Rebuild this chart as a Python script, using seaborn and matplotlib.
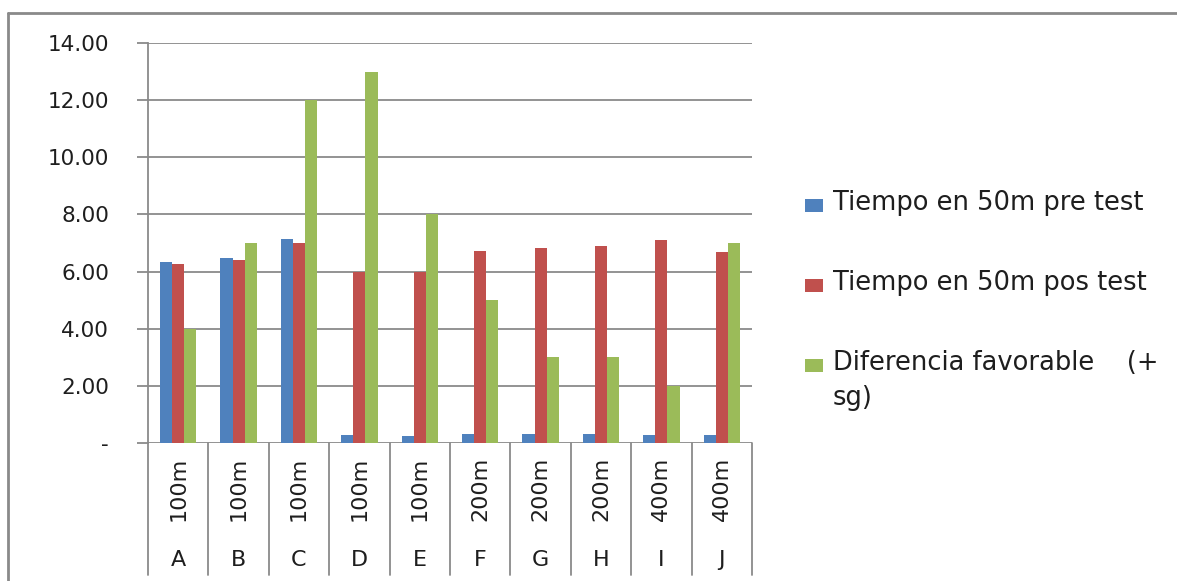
import numpy as np
import pandas as pd
import seaborn as sns
import matplotlib.pyplot as plt
from matplotlib.lines import Line2D
from matplotlib.patches import Rectangle

# datos
nadadores = ['A', 'B', 'C', 'D', 'E', 'F', 'G', 'H', 'I', 'J']
distancias = ['100m', '100m', '100m', '100m', '100m', '200m', '200m', '200m', '400m', '400m']
pre_test = [6.32, 6.46, 7.14, 0.28, 0.23, 0.33, 0.33, 0.33, 0.28, 0.28]
pos_test = [6.28, 6.42, 7.00, 6.00, 6.00, 6.73, 6.83, 6.91, 7.09, 6.69]
diferencia = [4.00, 7.00, 12.00, 13.00, 8.00, 5.00, 3.00, 3.00, 2.00, 7.00]

series = ['Tiempo en 50m pre test', 'Tiempo en 50m pos test', 'Diferencia favorable (+ sg)']
etiquetas_leyenda = ['Tiempo en 50m pre test', 'Tiempo en 50m pos test', 'Diferencia favorable    (+\nsg)']
colores = ['#4F81BD', '#C0504D', '#9BBB59']
y_ticks = [0, 2, 4, 6, 8, 10, 12, 14]

df = pd.DataFrame({
    'nadador': nadadores * 3,
    'serie': [series[0]] * 10 + [series[1]] * 10 + [series[2]] * 10,
    'valor': pre_test + pos_test + diferencia,
})

sns.set_style('white')
plt.rcParams['font.family'] = ['DejaVu Sans']

W, H = 1177, 581
gris = '#8a8a8a'
texto = '#1e1e1e'

fig = plt.figure(figsize=(W / 100, H / 100), dpi=100)
ax = fig.add_axes([148 / W, 1 - 443 / H, 604 / W, 400 / H])

sns.barplot(data=df, x='nadador', y='valor', hue='serie', hue_order=series,
            palette=colores, width=0.6, gap=0, saturation=1, errorbar=None,
            legend=False, linewidth=0, ax=ax)

ax.set_xlim(-0.5, len(nadadores) - 0.5)
ax.set_ylim(0, 14)
ax.set_yticks(y_ticks)
ax.set_yticklabels(['-' if v == 0 else f'{v:.2f}' for v in y_ticks])
ax.set_xticks([])
ax.set_xlabel('')
ax.set_ylabel('')
ax.yaxis.grid(True, color=gris, lw=1.3)
ax.set_axisbelow(True)
for s in ['top', 'right', 'bottom']:
    ax.spines[s].set_visible(False)
ax.spines['left'].set_color(gris)
ax.spines['left'].set_linewidth(1.3)
ax.tick_params(axis='y', length=8, width=1.3, color=gris, pad=20,
               labelsize=15.5, labelcolor=texto, left=True)

# eje de categorias en dos niveles
tr = ax.get_xaxis_transform()
for k in range(len(nadadores) + 1):
    ax.plot([k - 0.5, k - 0.5], [0, -0.33], transform=tr, color=gris,
            lw=1.3, clip_on=False)
for i, (n, d) in enumerate(zip(nadadores, distancias)):
    ax.text(i, -0.115, d, transform=tr, rotation=90, ha='center', va='center',
            fontsize=16, color=texto)
    ax.text(i, -0.2925, n, transform=tr, ha='center', va='center',
            fontsize=16, color=texto)

# leyenda
filas = [205, 285, 365]
for c, lab, yc in zip(colores, etiquetas_leyenda, filas):
    fig.add_artist(Rectangle((805 / W, 1 - (yc + 6.5) / H), 18 / W, 13 / H,
                             transform=fig.transFigure, color=c, lw=0))
    fig.text(833 / W, 1 - (yc - 15) / H, lab, ha='left', va='top',
             fontsize=18.5, color=texto, linespacing=1.45)

# borde del area del grafico
fig.add_artist(Line2D([8 / W, 1], [1 - 13 / H] * 2, transform=fig.transFigure,
                      color=gris, lw=2))
fig.add_artist(Line2D([8 / W] * 2, [0, 1 - 13 / H], transform=fig.transFigure,
                      color=gris, lw=2))

fig.savefig('out.png', dpi=100)
